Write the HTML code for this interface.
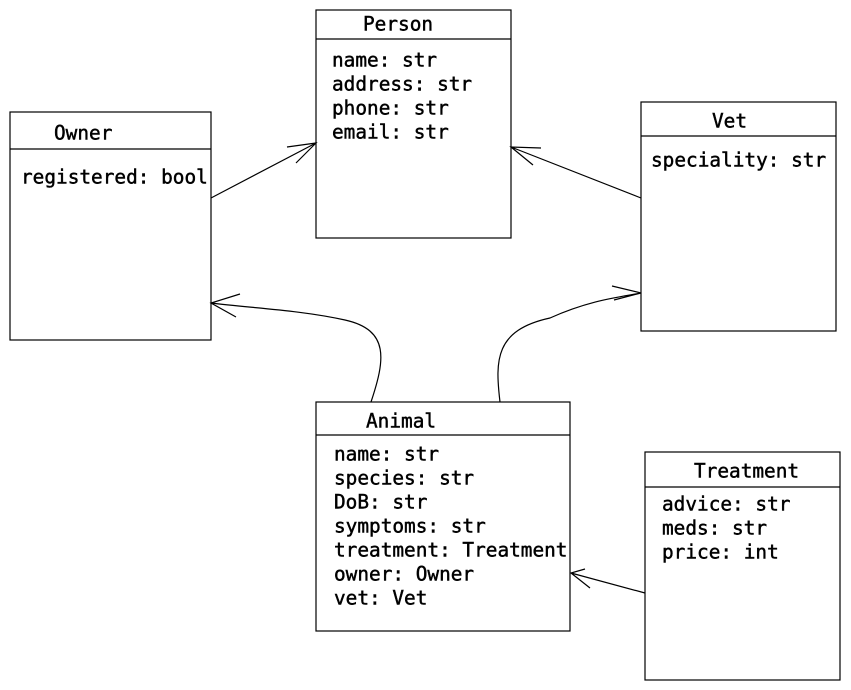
<!DOCTYPE html>
<html><head><style>
html,body{margin:0;padding:0;background:#fff;width:851px;height:690px;overflow:hidden}
text{font-family:"DejaVu Sans Mono","Liberation Mono",monospace;font-size:19.4px;fill:#000;stroke:#000;stroke-width:0.45;dominant-baseline:central}
</style></head><body>
<svg width="851" height="690" viewBox="0 0 851 690" xmlns="http://www.w3.org/2000/svg">
<g fill="none" stroke="#000" stroke-width="1.2">
<rect x="316" y="10" width="195" height="228"/><line x1="316" y1="39" x2="511" y2="39"/>
<rect x="10" y="112" width="201" height="228"/><line x1="10" y1="149" x2="211" y2="149"/>
<rect x="641" y="102" width="195" height="229"/><line x1="641" y1="136" x2="836" y2="136"/>
<rect x="316" y="402" width="254" height="229"/><line x1="316" y1="435" x2="570" y2="435"/>
<rect x="645" y="452" width="195" height="228"/><line x1="645" y1="487" x2="840" y2="487"/>
<path d="M211 198 L316 143 M287 147 L316 143 L296 163"/>
<path d="M641 198 L511 147 M541 148 L511 147 L533 165"/>
<path d="M371 402 C385 360 390 330 345 320 C300 310 250 308 211 303 M240 294 L211 303 L236 317"/>
<path d="M500 402 C495 360 495 330 550 318 C590 300 620 297 641 293 M612 286 L641 293 L614 300"/>
<path d="M645 593 L571 573 M585 569 L571 573 L590 588"/>
</g>
<text x="363" y="24">Person</text>
<text x="332" y="60">name: str</text>
<text x="332" y="84">address: str</text>
<text x="332" y="108">phone: str</text>
<text x="332" y="132">email: str</text>
<text x="54" y="133">Owner</text>
<text x="21" y="177">registered: bool</text>
<text x="712" y="121">Vet</text>
<text x="651" y="160">speciality: str</text>
<text x="366" y="421">Animal</text>
<text x="334" y="454">name: str</text>
<text x="334" y="478">species: str</text>
<text x="334" y="502">DoB: str</text>
<text x="334" y="526">symptoms: str</text>
<text x="334" y="550">treatment: Treatment</text>
<text x="334" y="574">owner: Owner</text>
<text x="334" y="598">vet: Vet</text>
<text x="694" y="471">Treatment</text>
<text x="662" y="504">advice: str</text>
<text x="662" y="528">meds: str</text>
<text x="662" y="552">price: int</text>
</svg>
</body></html>
